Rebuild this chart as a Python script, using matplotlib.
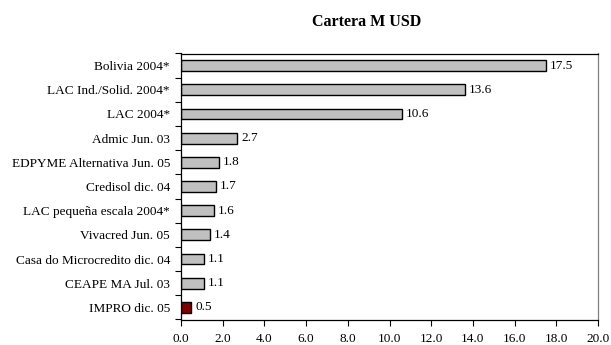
import matplotlib
matplotlib.use("Agg")
import matplotlib.pyplot as plt
import numpy as np

categories = ["Bolivia 2004*", "LAC Ind./Solid. 2004*", "LAC 2004*", "Admic Jun. 03",
              "EDPYME Alternativa Jun. 05", "Credisol dic. 04", "LAC pequeña escala 2004*",
              "Vivacred Jun. 05", "Casa do Microcredito dic. 04", "CEAPE MA Jul. 03", "IMPRO dic. 05"]
values = [17.5, 13.6, 10.6, 2.7, 1.8, 1.7, 1.6, 1.4, 1.1, 1.1, 0.5]
colors = ["#c0c0c0"] * 10 + ["#800000"]
xticks = [0, 2, 4, 6, 8, 10, 12, 14, 16, 18, 20]

plt.rcParams['font.family'] = ['Liberation Serif', 'DejaVu Serif']

fig = plt.figure(figsize=(6.11, 3.45), dpi=100)
ax = fig.add_axes([181/611, 1-319.5/345, (598-181)/611, (319.5-53.5)/345])

n = len(categories)
y = np.arange(n)[::-1]
ax.barh(y, values, height=0.45, color=colors, edgecolor="black", linewidth=1.0)
for yi, v in zip(y, values):
    ax.text(v + 0.18, yi, f"{v:.1f}", va="center", ha="left", fontsize=9.5)

ax.set_xlim(0, 20)
ax.set_ylim(-0.5, n - 0.5)
ax.set_xticks(xticks)
ax.set_xticklabels([f"{t:.1f}" for t in xticks], fontsize=9.5)
ax.set_yticks(y)
ax.set_yticklabels(categories, fontsize=9.5)
ax.tick_params(axis="y", length=0, pad=8)
ax.set_yticks(np.arange(-0.5, n, 1.0), minor=True)
ax.tick_params(axis="y", which="minor", length=4, width=0.8, direction="out")
ax.tick_params(axis="x", length=4, width=0.8, direction="out", pad=6)
for s in ax.spines.values():
    s.set_linewidth(0.9)
ax.spines["right"].set_color("#808080")
fig.text(367/611, 1-22/345, "Cartera M USD", fontsize=11.5, fontweight="bold",
         ha="center", va="center")

fig.savefig("out.png", dpi=100)
